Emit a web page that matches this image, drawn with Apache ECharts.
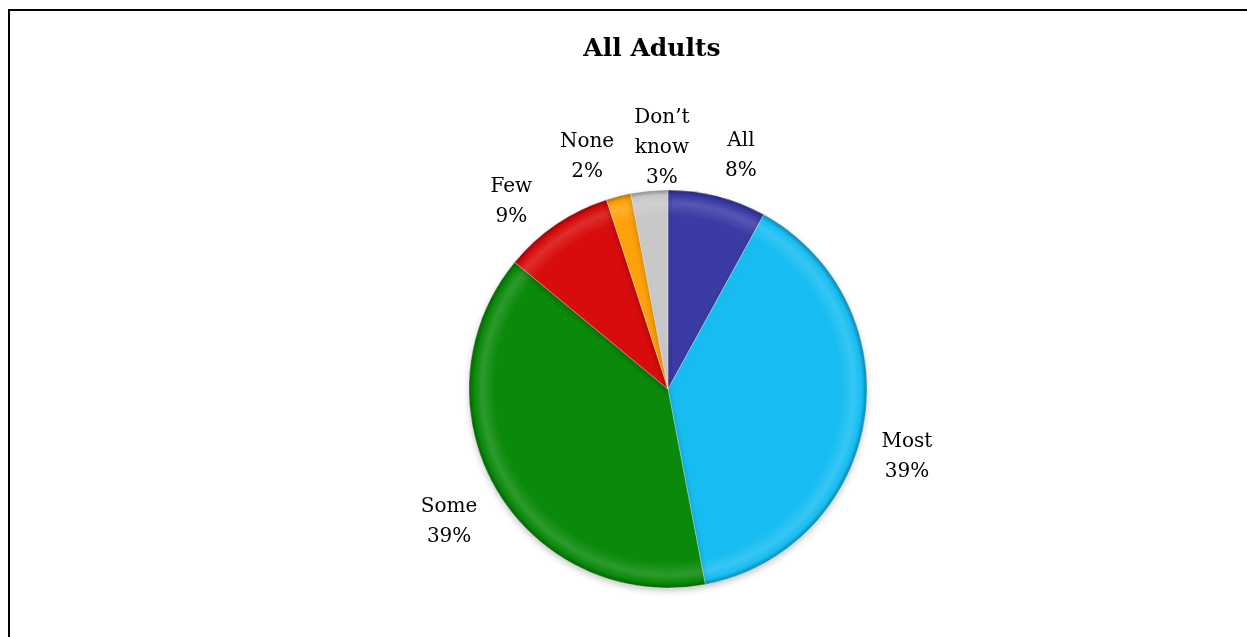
<!DOCTYPE html>
<html>
<head>
<meta charset="utf-8">
<script src="https://cdn.jsdelivr.net/npm/echarts@6/dist/echarts.min.js"></script>
<style>
  html, body { margin: 0; padding: 0; background: #fff; overflow: hidden; }
  #wrap { position: relative; width: 1247px; height: 637px; }
  #chart { position: absolute; left: 0; top: 0; width: 1247px; height: 637px; }
  #frame {
    position: absolute; left: 8px; top: 9px; width: 1400px; height: 800px;
    border-left: 2px solid #000; border-top: 2px solid #000;
    pointer-events: none; box-sizing: border-box;
  }
</style>
</head>
<body>
<div id="wrap">
  <div id="chart"></div>
  <div id="frame"></div>
</div>
<script>
// Survey answers, clockwise from 12 o'clock
const categories = ['All', 'Most', 'Some', 'Few', 'None', 'Don\u2019t know'];
const labelNames = ['All', 'Most', 'Some', 'Few', 'None', 'Don\u2019t\nknow'];
const shares = [8, 39, 39, 9, 2, 3];

const sliceColors = ['#3B3BA6', '#17BDF2', '#0A8A0A', '#D80C0C', '#FFA20A', '#C8C8C8'];

// pie geometry
const CX = 668, CY = 389, R = 199;
const LABEL_R = 245;
// fine placement of each data label (px), like a hand-tuned "best fit"
const labelNudge = {
  'All': [12, 4], 'Most': [-3, 29], 'Some': [-8, 8],
  'Few': [-19, 15], 'None': [-20, 5], 'Don\u2019t know': [17, 3]
};

function mix(hex, target, t) {
  const n = parseInt(hex.slice(1), 16);
  const r = (n >> 16) & 255, g = (n >> 8) & 255, b = n & 255;
  const m = c => Math.round(c + (target - c) * t);
  return 'rgb(' + m(r) + ',' + m(g) + ',' + m(b) + ')';
}

// soft rounded rim: flat face, a faint highlight band, darker outer edge
function bevel(hex) {
  return {
    type: 'radial', x: CX, y: CY, r: R, global: true,
    colorStops: [
      { offset: 0, color: hex },
      { offset: 0.87, color: hex },
      { offset: 0.935, color: mix(hex, 255, 0.14) },
      { offset: 0.975, color: hex },
      { offset: 1, color: mix(hex, 0, 0.3) }
    ]
  };
}

const total = shares.reduce((a, b) => a + b, 0);
const midAngles = [];
let acc = 0;
shares.forEach(v => { midAngles.push((acc + v / 2) / total * 2 * Math.PI); acc += v; });

const chart = echarts.init(document.getElementById('chart'), null, { renderer: 'canvas' });

chart.setOption({
  backgroundColor: 'transparent',
  animation: false,
  title: {
    text: 'All Adults',
    left: 647,
    textAlign: 'center',
    top: 32,
    textStyle: { fontFamily: 'DejaVu Serif', fontWeight: 'bold', fontSize: 25, color: '#000' }
  },
  series: [{
    type: 'pie',
    center: [CX, CY],
    radius: R,
    startAngle: 90,
    clockwise: true,
    avoidLabelOverlap: false,
    data: categories.map((name, i) => ({
      name: name,
      value: shares[i],
      itemStyle: { color: bevel(sliceColors[i]) }
    })),
    itemStyle: {
      borderColor: 'rgba(255,255,255,0.3)',
      borderWidth: 1,
      shadowBlur: 6,
      shadowOffsetY: 3,
      shadowColor: 'rgba(0,0,0,0.22)'
    },
    label: {
      show: true,
      position: 'outside',
      formatter: p => labelNames[p.dataIndex] + '\n' + shares[p.dataIndex] + '%',
      fontFamily: 'DejaVu Serif',
      fontSize: 20,
      lineHeight: 30,
      color: '#000',
      align: 'center'
    },
    labelLine: { show: false },
    labelLayout: function (params) {
      const i = params.dataIndex;
      const a = midAngles[i];
      const nudge = labelNudge[categories[i]];
      return {
        x: CX + LABEL_R * Math.sin(a) + nudge[0],
        y: CY - LABEL_R * Math.cos(a) + nudge[1],
        align: 'center',
        verticalAlign: 'middle'
      };
    },
    emphasis: { disabled: true }
  }]
});
</script>
</body>
</html>
